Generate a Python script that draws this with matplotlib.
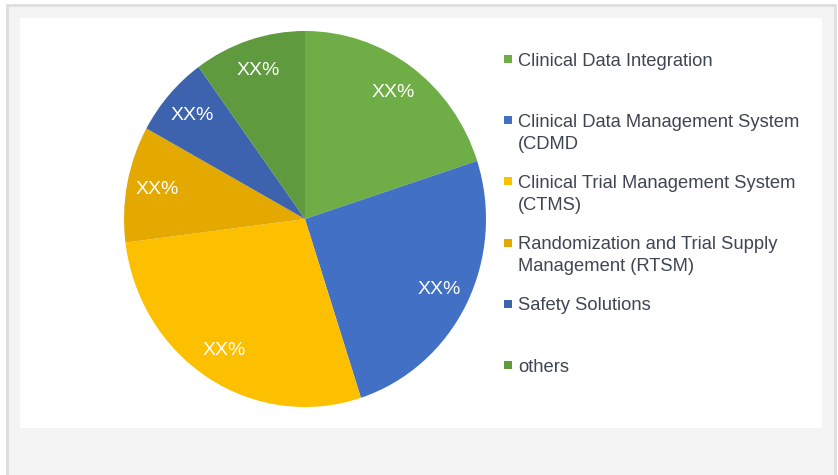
import matplotlib
matplotlib.use("Agg")
import matplotlib.pyplot as plt
from matplotlib.patches import Rectangle

categories = [
    "Clinical Data Integration",
    "Clinical Data Management System\n(CDMD",
    "Clinical Trial Management System\n(CTMS)",
    "Randomization and Trial Supply\nManagement (RTSM)",
    "Safety Solutions",
    "others",
]
values = [20, 25, 28, 10, 7, 10]
pct_labels = ["XX%", "XX%", "XX%", "XX%", "XX%", "XX%"]
colors = ["#6fae47", "#4270c4", "#fcc000", "#e3a900", "#3d63ae", "#5f9a3e"]

W, H = 838, 475
fig = plt.figure(figsize=(W / 100, H / 100), dpi=100)
fig.patch.set_facecolor("white")

def px(x, y, w, h):
    return (x / W, 1 - (y + h) / H, w / W, h / H)

# outer gray panel
l, b, w, h = px(7, 5, 828, 475)
fig.patches.append(Rectangle((l, b), w, h, transform=fig.transFigure,
                             facecolor="#f4f4f4", edgecolor="#dedede", linewidth=2, zorder=0))
# inner white panel
l, b, w, h = px(20, 18, 802, 410)
fig.patches.append(Rectangle((l, b), w, h, transform=fig.transFigure,
                             facecolor="white", edgecolor="none", zorder=0.5))

# pie axes: center (305,219), rx 181, ry 188
cx, cy, rx, ry = 305, 219, 181, 188
ax = fig.add_axes(px(cx - rx, cy - ry, 2 * rx, 2 * ry))
ax.set_zorder(1)
ax.patch.set_alpha(0)
it = iter(pct_labels)
wedges, texts, autotexts = ax.pie(
    values, colors=colors, startangle=90, counterclock=False,
    autopct=lambda p: next(it), pctdistance=0.83,
    wedgeprops=dict(linewidth=0),
    textprops=dict(color="white", fontsize=14, family="Liberation Sans"),
)
ax.set_aspect("auto")
ax.set_xlim(-1, 1)
ax.set_ylim(-1, 1)
ax.axis("off")

# legend drawn manually
text_color = "#404552"
for i, (lab, col) in enumerate(zip(categories, colors)):
    yc = 59 + 61.2 * i
    l, b, w, h = px(504, yc - 4, 8, 8)
    fig.patches.append(Rectangle((l, b), w, h, transform=fig.transFigure,
                                 facecolor=col, edgecolor="none", zorder=2))
    for j, line in enumerate(lab.split("\n")):
        yb = yc + 6.5 + 22 * j
        fig.text(518 / W, 1 - yb / H, line, ha="left", va="baseline",
                 fontsize=13.2, color=text_color, family="Liberation Sans", zorder=3)

fig.savefig("out.png", dpi=100)
